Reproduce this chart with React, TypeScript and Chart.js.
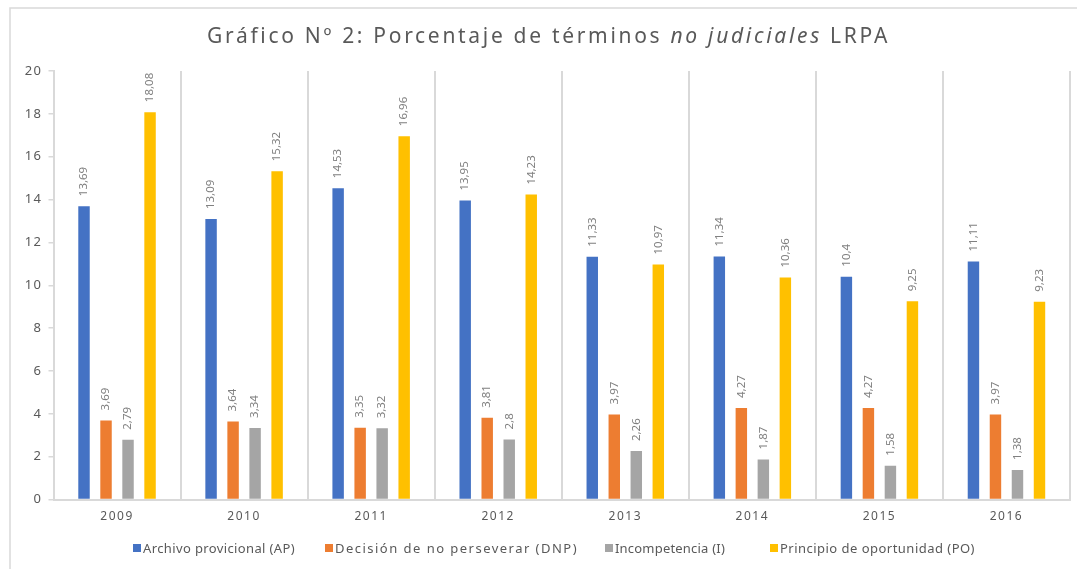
import React, { useEffect, useRef } from "react";
import { Chart, registerables } from "chart.js";

Chart.register(...registerables);

const years = ["2009", "2010", "2011", "2012", "2013", "2014", "2015", "2016"];
const archivoProvicional = [13.69, 13.09, 14.53, 13.95, 11.33, 11.34, 10.4, 11.11];
const decisionNoPerseverar = [3.69, 3.64, 3.35, 3.81, 3.97, 4.27, 4.27, 3.97];
const incompetencia = [2.79, 3.34, 3.32, 2.8, 2.26, 1.87, 1.58, 1.38];
const principioOportunidad = [18.08, 15.32, 16.96, 14.23, 10.97, 10.36, 9.25, 9.23];
const seriesNames = [
  "Archivo provicional (AP)",
  "Decisión de no perseverar (DNP)",
  "Incompetencia (I)",
  "Principio de oportunidad (PO)",
];
const yTickValues = [0, 2, 4, 6, 8, 10, 12, 14, 16, 18, 20];
const titleParts = [
  { text: "Gráfico Nº 2: Porcentaje de términos ", italic: false },
  { text: "no judiciales", italic: true },
  { text: " LRPA", italic: false },
];

const COLORS = ["#4472C4", "#ED7D31", "#A5A5A5", "#FFC000"];
const TEXT = "#595959";
const GRID = "#d9d9d9";
const FONT = "'Noto Sans', 'Open Sans', sans-serif";

const fmt = (v: number) => String(v).replace(".", ",");

const framePlugin = {
  id: "frame",
  beforeDraw(chart: any) {
    const ctx = chart.ctx;
    ctx.save();
    ctx.fillStyle = "#ffffff";
    ctx.fillRect(0, 0, chart.width, chart.height);
    ctx.strokeStyle = GRID;
    ctx.lineWidth = 1.5;
    ctx.beginPath();
    ctx.moveTo(chart.width, 8);
    ctx.lineTo(10, 8);
    ctx.lineTo(10, chart.height);
    ctx.stroke();
    ctx.restore();
    (ctx as any).letterSpacing = "1.5px";
  },
};

const labelPlugin = {
  id: "barLabels",
  afterDatasetsDraw(chart: any) {
    const ctx = chart.ctx;
    ctx.save();
    (ctx as any).letterSpacing = "0px";
    ctx.font = `11.5px ${FONT}`;
    ctx.fillStyle = "#808080";
    ctx.textAlign = "left";
    ctx.textBaseline = "middle";
    chart.data.datasets.forEach((ds: any, di: number) => {
      const meta = chart.getDatasetMeta(di);
      meta.data.forEach((el: any, i: number) => {
        ctx.save();
        ctx.translate(el.x, el.y - 10);
        ctx.rotate(-Math.PI / 2);
        ctx.fillText(fmt(ds.data[i]), 0, 0);
        ctx.restore();
      });
    });
    ctx.restore();
  },
  afterDraw(chart: any) {
    const ctx = chart.ctx;
    ctx.save();
    // Title
    ctx.fillStyle = TEXT;
    ctx.textBaseline = "alphabetic";
    ctx.textAlign = "left";
    (ctx as any).letterSpacing = "0px";
    const size = 21;
    let raw = 0;
    let nChars = 0;
    titleParts.forEach((p) => {
      ctx.font = `${p.italic ? "italic " : ""}${size}px ${FONT}`;
      raw += ctx.measureText(p.text).width;
      nChars += p.text.length;
    });
    const targetW = 683;
    const sp = Math.max(0, (targetW - raw) / nChars);
    (ctx as any).letterSpacing = `${sp}px`;
    let x = 548.5 - targetW / 2;
    titleParts.forEach((p) => {
      ctx.font = `${p.italic ? "italic " : ""}${size}px ${FONT}`;
      ctx.fillText(p.text, x, 43);
      x += ctx.measureText(p.text).width;
    });

    // Legend
    const starts = [133, 325, 605, 770];
    const widths = [162, 253, 120, 205];
    ctx.font = `13px ${FONT}`;
    ctx.textBaseline = "middle";
    seriesNames.forEach((name, i) => {
      ctx.fillStyle = COLORS[i];
      ctx.fillRect(starts[i], 544, 8, 8);
      (ctx as any).letterSpacing = "0px";
      const w = ctx.measureText(name).width;
      const s = Math.max(0, (widths[i] - 10 - w) / name.length);
      (ctx as any).letterSpacing = `${s}px`;
      ctx.fillStyle = TEXT;
      ctx.fillText(name, starts[i] + 10, 549);
    });
    ctx.restore();
  },
};

export default function App() {
  const ref = useRef<HTMLCanvasElement | null>(null);

  useEffect(() => {
    document.body.style.margin = "0";
    document.body.style.overflow = "hidden";
    if (!ref.current) return;
    const data = [archivoProvicional, decisionNoPerseverar, incompetencia, principioOportunidad];
    const chart = new Chart(ref.current, {
      type: "bar",
      data: {
        labels: years,
        datasets: data.map((d, i) => ({
          label: seriesNames[i],
          data: d,
          backgroundColor: COLORS[i],
          borderWidth: 0,
          categoryPercentage: 0.693,
          barPercentage: 0.52,
        })),
      },
      options: {
        responsive: false,
        animation: false,
        events: [],
        layout: { padding: { left: 0, right: 7, top: 71, bottom: 39.5 } },
        plugins: {
          legend: { display: false },
          title: { display: false },
          tooltip: { enabled: false },
        },
        scales: {
          x: {
            offset: true,
            grid: {
              display: true,
              drawOnChartArea: true,
              drawTicks: false,
              color: GRID,
              lineWidth: 2,
              offset: true,
            },
            border: { display: true, color: GRID, width: 2 },
            ticks: {
              color: TEXT,
              font: { family: FONT, size: 12 },
              padding: 10,
              maxRotation: 0,
            },
            afterFit: (s: any) => {
              s.height = 30;
            },
          },
          y: {
            min: 0,
            max: 20,
            afterBuildTicks: (s: any) => {
              s.ticks = yTickValues.map((v) => ({ value: v }));
            },
            grid: {
              drawOnChartArea: false,
              drawTicks: true,
              tickLength: 5,
              color: GRID,
              lineWidth: 1.5,
            },
            border: { display: true, color: GRID, width: 2 },
            ticks: {
              color: TEXT,
              font: { family: FONT, size: 13 },
              padding: 6,
            },
            afterFit: (s: any) => {
              s.width = 53.5;
            },
          },
        },
      },
      plugins: [framePlugin, labelPlugin],
    });
    return () => chart.destroy();
  }, []);

  return (
    <div style={{ width: 1077, height: 569 }}>
      <canvas ref={ref} width={1077} height={569} />
    </div>
  );
}
